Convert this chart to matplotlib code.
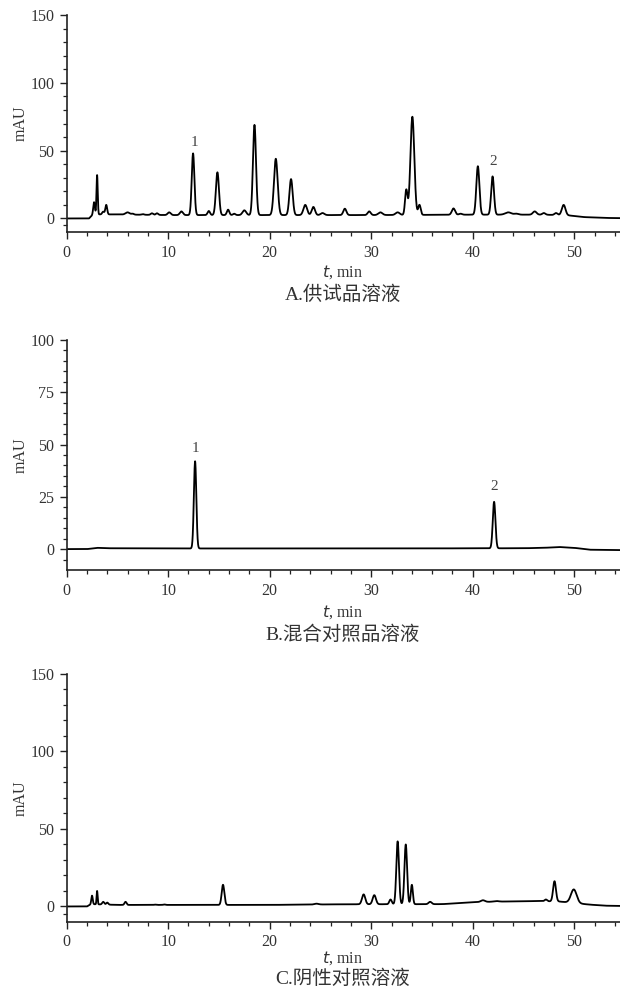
import numpy as np
import matplotlib
matplotlib.use("Agg")
import matplotlib.pyplot as plt

# ---- data ----
# Each chromatogram: baseline knots + peak table (retention time, apex mAU, width sigma)

# A. 供试品溶液
a_base_t = [0, 2.2, 2.6, 4.5, 10, 20, 30, 40, 47, 49.5, 51, 53, 55]
a_base_y = [0, 0, 3.0, 3.0, 2.5, 2.5, 2.5, 2.8, 2.8, 2.2, 1.0, 0.4, 0.2]
a_peak_t = [2.7, 3.0, 3.6, 3.9, 6.0, 6.5, 7.5, 8.4, 8.9, 10.1, 11.3, 12.45, 14.0,
            14.85, 15.9, 16.5, 17.5, 18.5, 20.6, 22.1, 23.5, 24.3, 25.2, 27.4,
            29.8, 30.9, 32.6, 33.45, 34.05, 34.75, 38.1, 38.8, 40.5, 41.95, 43.5,
            44.3, 46.1, 47.0, 48.2, 48.95]
a_peak_h = [12, 32, 5, 10, 4.5, 3.5, 3.2, 3.8, 3.8, 4.5, 5.2, 48, 5.5,
            34, 6.5, 3.5, 6, 69, 44, 29, 10, 8.5, 4, 7.2,
            5.2, 4.5, 4.5, 21, 75, 10, 7.4, 3.5, 38.5, 31, 4.5,
            3.5, 5.2, 4, 4, 10]
a_peak_w = [0.08, 0.06, 0.1, 0.09, 0.2, 0.12, 0.12, 0.12, 0.12, 0.15, 0.15, 0.13, 0.12,
            0.15, 0.12, 0.12, 0.18, 0.15, 0.18, 0.16, 0.18, 0.16, 0.18, 0.15,
            0.15, 0.2, 0.2, 0.12, 0.19, 0.12, 0.16, 0.15, 0.15, 0.14, 0.3,
            0.2, 0.18, 0.15, 0.15, 0.18]

# B. 混合对照品溶液
b_base_t = [0, 2.0, 3.0, 4.0, 10, 30, 45, 47, 48.5, 50, 51.5, 55]
b_base_y = [0, 0, 0.6, 0.4, 0.3, 0.3, 0.4, 0.6, 1.0, 0.6, -0.3, -0.5]
b_peak_t = [12.65, 42.1]
b_peak_h = [42, 22.6]
b_peak_w = [0.12, 0.13]

# C. 阴性对照溶液
c_base_t = [0, 2.0, 2.4, 5, 15, 20, 27, 37, 40, 44, 46.5, 48.5, 51.5, 53, 55]
c_base_y = [0, 0, 1.5, 1.0, 1.0, 1.0, 1.4, 1.5, 2.8, 3.3, 3.5, 3.2, 1.2, 0.5, 0.3]
c_peak_t = [2.5, 3.0, 3.6, 4.0, 5.8, 8.7, 9.6, 15.4, 24.6, 29.25, 30.3, 31.9,
            32.6, 33.4, 34.0, 35.8, 41.0, 42.3, 47.2, 48.05, 49.95]
c_peak_h = [7, 10, 3, 2.5, 3, 1.2, 1.3, 14, 1.8, 7.8, 7.3, 4.5,
            42, 40, 14, 3, 4, 3.5, 4.5, 16.3, 11]
c_peak_w = [0.07, 0.05, 0.1, 0.1, 0.1, 0.1, 0.1, 0.13, 0.2, 0.16, 0.16, 0.12,
            0.13, 0.13, 0.1, 0.15, 0.2, 0.25, 0.12, 0.14, 0.28]

peak_labels = {
    "A": [("1", 12.55, 51), ("2", 42.0, 37)],
    "B": [("1", 12.65, 45), ("2", 42.1, 27)],
}

xmax = 54.5
serif = ["Liberation Serif", "DejaVu Serif"]
cjk = ["Liberation Serif", "Noto Sans CJK SC"]
txt = "#333333"


def trace(t, base_t, base_y, pk_t, pk_h, pk_w):
    b = np.interp(t, base_t, base_y)
    y = b.copy()
    for t0, h, s in zip(pk_t, pk_h, pk_w):
        y += (h - np.interp(t0, base_t, base_y)) * np.exp(-(t - t0) ** 2 / (2 * s ** 2))
    return y


panels = [
    # key, axes rect, ylim, major, minor, data, title, y of "t,min", y of title
    ("A", [0.1075, 0.7661, 0.8925, 0.2188], (-10, 150), [0, 50, 100, 150],
     [-5] + [v for v in range(10, 150, 10) if v % 50],
     (a_base_t, a_base_y, a_peak_t, a_peak_h, a_peak_w), "A.供试品溶液", 0.7255, 0.7025),
    ("B", [0.1075, 0.4254, 0.8925, 0.2319], (-10, 100), [0, 25, 50, 75, 100],
     [v for v in range(-5, 100, 5) if v % 25],
     (b_base_t, b_base_y, b_peak_t, b_peak_h, b_peak_w), "B.混合对照品溶液", 0.3825, 0.3600),
    ("C", [0.1075, 0.0706, 0.8925, 0.2500], (-10, 150), [0, 50, 100, 150],
     [-5] + [v for v in range(10, 150, 10) if v % 50],
     (c_base_t, c_base_y, c_peak_t, c_peak_h, c_peak_w), "C.阴性对照溶液", 0.0340, 0.0130),
]

fig = plt.figure(figsize=(6.2, 9.92), dpi=100, facecolor="white")
t = np.linspace(0, xmax, 6000)

for key, rect, ylim, major, minor, data, title, ty_lab, ty_title in panels:
    ax = fig.add_axes(rect)
    y = trace(t, *data)
    ax.plot(t, y, color="black", lw=1.3, solid_joinstyle="round")

    ax.set_xlim(0, xmax)
    ax.set_ylim(*ylim)
    ax.set_xticks([0, 10, 20, 30, 40, 50])
    ax.set_xticks([v for v in range(2, 55, 2) if v % 10], minor=True)
    ax.set_yticks(major)
    ax.set_yticks(minor, minor=True)

    for side in ("top", "right"):
        ax.spines[side].set_visible(False)
    for side in ("left", "bottom"):
        ax.spines[side].set_linewidth(1.2)
        ax.spines[side].set_color("#222222")

    ax.tick_params(which="major", direction="out", length=5, width=1.0,
                   colors="#222222", labelcolor=txt, labelsize=11.5, pad=4)
    ax.tick_params(which="minor", direction="out", length=3, width=0.9,
                   colors="#222222")
    for lab in ax.get_xticklabels() + ax.get_yticklabels():
        lab.set_family(serif)

    ax.set_ylabel("mAU", family=serif, fontsize=11.5, color=txt, labelpad=1)

    for s, x0, y0 in peak_labels.get(key, []):
        ax.text(x0, y0, s, ha="center", va="bottom", family=serif,
                fontsize=11, color="#444444")

    fig.text(0.552, ty_lab, "$t$, min", ha="center", va="center",
             family=serif, fontsize=11.5, color=txt)
    fig.text(0.553, ty_title, title, ha="center", va="center",
             family=cjk, fontsize=14, color=txt)

fig.savefig("out.png", dpi=100, facecolor="white")
